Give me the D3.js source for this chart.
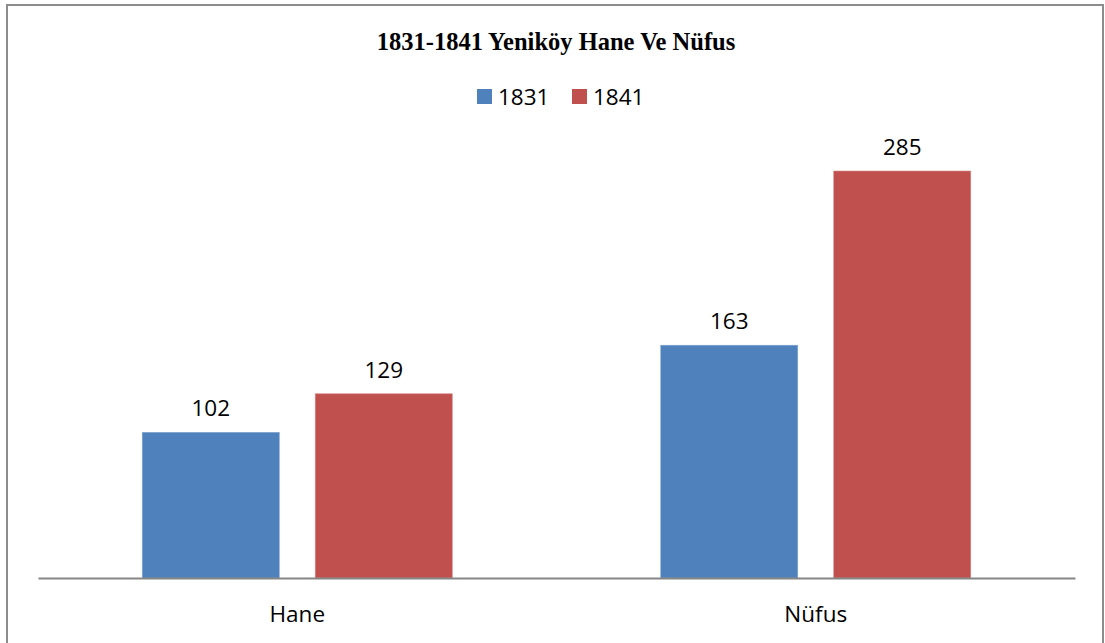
<!DOCTYPE html>
<html>
<head>
<meta charset="utf-8">
<script src="https://cdn.jsdelivr.net/npm/d3@7"></script>
<style>
  html, body { margin: 0; padding: 0; background: #fff; }
  svg { display: block; }
</style>
</head>
<body>
<svg id="chart" width="1105" height="643"></svg>
<script>
// Household and population counts for Yeniköy
const categories = ["Hane", "Nüfus"];
const seriesNames = ["1831", "1841"];
const values1831 = [102, 163];
const values1841 = [129, 285];
const seriesColors = ["#4F81BD", "#C0504D"];
const seriesEdges = ["#7FA3D1", "#D68583"];

const rows = categories.map((c, i) => ({
  category: c,
  values: [
    { series: seriesNames[0], value: values1831[i], color: seriesColors[0], edge: seriesEdges[0] },
    { series: seriesNames[1], value: values1841[i], color: seriesColors[1], edge: seriesEdges[1] }
  ]
}));

const svg = d3.select("#chart");

// outer chart frame
svg.append("rect")
  .attr("x", 7).attr("y", 5)
  .attr("width", 1096).attr("height", 660)
  .attr("fill", "#fff")
  .attr("stroke", "#8c8c8c")
  .attr("stroke-width", 2);

const plot = { left: 38, right: 1075, top: 149.6, bottom: 578 };

const x0 = d3.scaleBand()
  .domain(categories)
  .range([plot.left, plot.right])
  .paddingInner(0)
  .paddingOuter(0);

const groupPad = 104.25;
const x1 = d3.scaleBand()
  .domain(seriesNames)
  .range([groupPad, x0.bandwidth() - groupPad])
  .paddingInner(0.208)
  .paddingOuter(0);

const y = d3.scaleLinear()
  .domain([0, 300])
  .range([plot.bottom, plot.top]);

// title
svg.append("text")
  .attr("x", 556)
  .attr("y", 50)
  .attr("text-anchor", "middle")
  .attr("font-family", "'Liberation Serif', 'Times New Roman', serif")
  .attr("font-weight", "bold")
  .attr("font-size", 24.5)
  .attr("fill", "#000")
  .text("1831-1841 Yeniköy Hane Ve Nüfus");

// legend
const legendItems = [
  { name: seriesNames[0], color: seriesColors[0], x: 477 },
  { name: seriesNames[1], color: seriesColors[1], x: 572 }
];
const lg = svg.append("g");
legendItems.forEach(d => {
  lg.append("rect")
    .attr("x", d.x).attr("y", 89)
    .attr("width", 15).attr("height", 15)
    .attr("fill", d.color);
  lg.append("text")
    .attr("x", d.x + 21)
    .attr("y", 105)
    .attr("font-family", "'Open Sans', sans-serif")
    .attr("font-size", 22.5)
    .attr("fill", "#000")
    .text(d.name);
});

// bars
const groups = svg.append("g")
  .selectAll("g")
  .data(rows)
  .join("g")
  .attr("transform", d => `translate(${x0(d.category)},0)`);

groups.selectAll("rect")
  .data(d => d.values)
  .join("rect")
  .attr("x", d => x1(d.series))
  .attr("y", d => y(d.value))
  .attr("width", x1.bandwidth())
  .attr("height", d => y(0) - y(d.value))
  .attr("fill", d => d.color)
  .attr("stroke", d => d.edge)
  .attr("stroke-width", 0.6);

groups.selectAll("text.val")
  .data(d => d.values)
  .join("text")
  .attr("class", "val")
  .attr("x", d => x1(d.series) + x1.bandwidth() / 2)
  .attr("y", d => y(d.value) - 16)
  .attr("text-anchor", "middle")
  .attr("font-family", "'Open Sans', sans-serif")
  .attr("font-size", 22.5)
  .attr("fill", "#000")
  .text(d => d.value);

// category axis
const xAxis = svg.append("g")
  .attr("transform", `translate(0,${plot.bottom})`)
  .call(d3.axisBottom(x0).tickSize(0).tickPadding(0));
xAxis.select(".domain")
  .attr("stroke", "#868686")
  .attr("stroke-width", 2);
xAxis.selectAll(".tick text")
  .attr("y", 44)
  .attr("dy", 0)
  .attr("font-family", "'Open Sans', sans-serif")
  .attr("font-size", 22.5)
  .attr("fill", "#000");
</script>
</body>
</html>
